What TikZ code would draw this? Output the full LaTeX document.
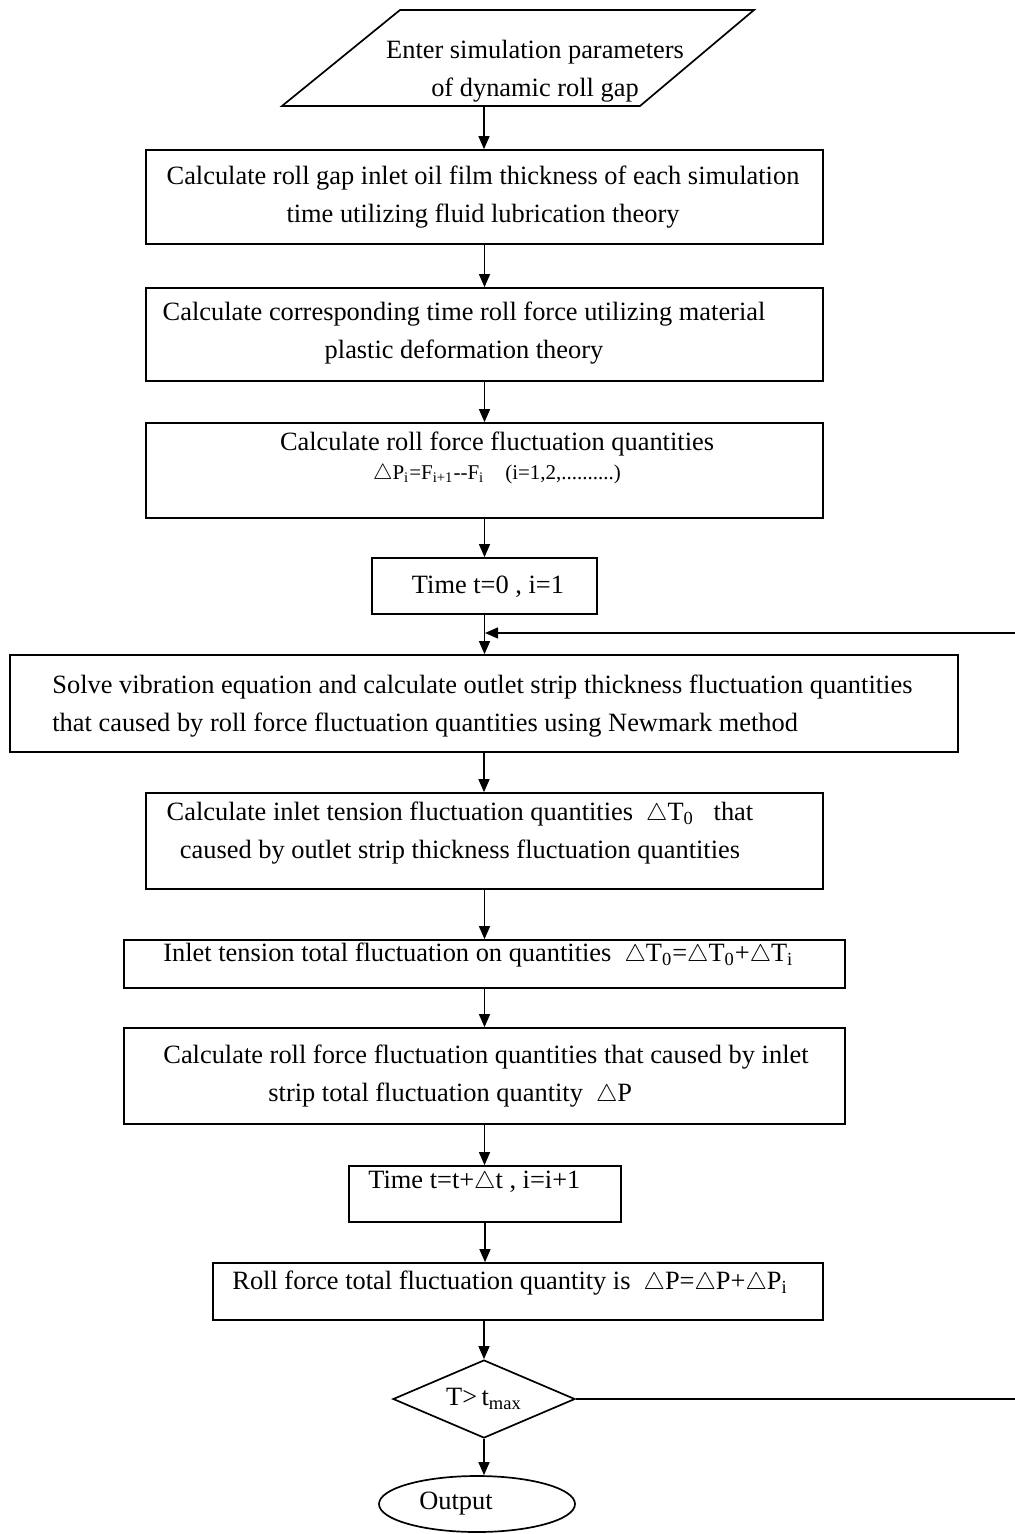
\documentclass[tikz,border=0pt]{standalone}
\usepackage{fontspec}
\setmainfont{Liberation Serif}
\usepackage{tikz}
\usetikzlibrary{arrows.meta}
\usetikzlibrary{shapes.geometric}
\tikzstyle{BoxStep}=[rectangle,draw,line width=.85pt,inner sep=0pt]
\tikzstyle{TextStep}=[inner sep=0pt,font=\fontsize{13.2}{19}\selectfont]
\tikzstyle{EdgeFlow}=[line width=.65pt,-{Triangle[length=6.5pt,width=5.5pt]}]
\newcommand{\Dl}{$\triangle$}

\begin{document}
\begin{tikzpicture}[x=.5pt,y=-.5pt]
    \useasboundingbox (0,0) rectangle (1015,1534);
    % input
    \draw[line width=.85pt](400,10)--(754,10)--(640,106)--(282,106)--cycle;
    \coordinate(in)at(484,106);
    \node[TextStep,align=center](tIn)at(535,71){Enter simulation parameters\\of dynamic roll gap};
    % boxes
    \node[BoxStep,minimum width=338.5pt,minimum height=47pt](b1)at(484.5,197){};
    \node[BoxStep,minimum width=338.5pt,minimum height=46.5pt](b2)at(484.5,334.5){};
    \node[BoxStep,minimum width=338.5pt,minimum height=47.5pt](b3)at(484.5,470.5){};
    \node[BoxStep,minimum width=112.5pt,minimum height=28pt](b4)at(484.5,586){};
    \node[BoxStep,minimum width=474pt,minimum height=48.5pt](b5)at(484,703.5){};
    \node[BoxStep,minimum width=338.5pt,minimum height=48pt](b6)at(484.5,841){};
    \node[BoxStep,minimum width=360.5pt,minimum height=24pt](b7)at(484.5,964){};
    \node[BoxStep,minimum width=360.5pt,minimum height=48pt](b8)at(484.5,1076){};
    \node[BoxStep,minimum width=136pt,minimum height=28pt](b9)at(485,1194){};
    \node[BoxStep,minimum width=305pt,minimum height=28.5pt](b10)at(518,1291.5){};
    \node[diamond,aspect=2.33,draw,line width=.85pt,inner sep=0pt,minimum width=91pt,minimum height=39pt,
        TextStep](dec)at(484,1399){T>\,t\textsubscript{max}};
    \node[ellipse,draw,line width=.85pt,inner sep=0pt,minimum width=98pt,minimum height=28pt,
        TextStep](out)at(477,1504){Output\hspace*{21pt}};
    % texts
    \node[TextStep,align=center](t1)at(483,197){Calculate roll gap inlet oil film thickness of each simulation\\
        time utilizing fluid lubrication theory};
    \node[TextStep,align=center](t2)at(464,333){Calculate corresponding time roll force utilizing material\\
        plastic deformation theory};
    \node[TextStep,align=center](t3)at(497,458){Calculate roll force fluctuation quantities\\[-4.5pt]
        {\fontsize{10.5}{14}\selectfont\Dl P\textsubscript{i}=F\textsubscript{i+1}-{}-F\textsubscript{i}\ \ \ \ (i=1,2,..........)}};
    \node[TextStep](t4)at(488,587){Time t=0 , i=1};
    \node[TextStep,align=left,anchor=west](t5)at(52,706){Solve vibration equation and calculate outlet strip thickness fluctuation quantities\\
        that caused by roll force fluctuation quantities using Newmark method};
    \node[TextStep,align=center](t6)at(460,833){Calculate inlet tension fluctuation quantities\ \ \Dl T\textsubscript{0}\ \ \ that\\
        caused by outlet strip thickness fluctuation quantities};
    \node[TextStep,anchor=west](t7)at(163,955){Inlet tension total fluctuation on quantities\ \ \Dl T\textsubscript{0}=\Dl T\textsubscript{0}+\Dl T\textsubscript{i}};
    \node[TextStep,align=left,anchor=west](t8)at(163,1076){Calculate roll force fluctuation quantities that caused by inlet\\
        \hspace*{52.5pt}strip total fluctuation quantity\ \ \Dl P};
    \node[TextStep,anchor=west](t9)at(368,1182){Time t=t+\Dl t , i=i+1};
    \node[TextStep,anchor=west](t10)at(232,1283){Roll force total fluctuation quantity is\ \ \Dl P=\Dl P+\Dl P\textsubscript{i}};
    % arrows
    \draw[EdgeFlow](in)--(in|-b1.north);
    \draw[EdgeFlow](b1.south)--(b2.north);
    \draw[EdgeFlow](b2.south)--(b3.north);
    \draw[EdgeFlow](b3.south)--(b4.north);
    \draw[EdgeFlow](b4.south)--(b4.south|-b5.north);
    \draw[EdgeFlow](b5.south)--(b5.south|-b6.north);
    \draw[EdgeFlow](b6.south)--(b7.north);
    \draw[EdgeFlow](b7.south)--(b8.north);
    \draw[EdgeFlow](b8.south)--(b8.south|-b9.north);
    \draw[EdgeFlow](b9.south)--(b9.south|-b10.north);
    \draw[EdgeFlow](dec.north|-b10.south)--(dec.north);
    \draw[EdgeFlow](dec.south)--(dec.south|-out.north);
    % loop back
    \coordinate(back)at(1022,633);
    \coordinate(loop)at(485,633);
    \draw[EdgeFlow](dec.east)-|(back)--(loop);
\end{tikzpicture}
\end{document}
